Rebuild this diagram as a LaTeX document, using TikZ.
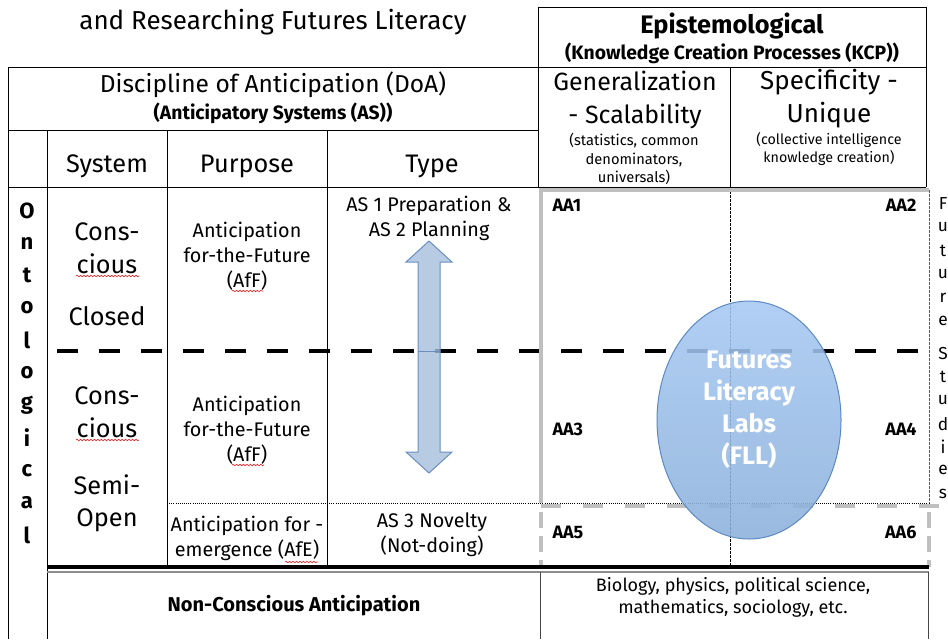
\documentclass[tikz,border=0pt]{standalone}
\usepackage{fontspec}
\setmainfont{Fira Sans}
\usetikzlibrary{decorations.pathmorphing}

\tikzset{every picture/.style={line width=0.75pt}}
\tikzset{
  txt/.style={inner sep=0.75pt, align=center},
  aalbl/.style={inner sep=0.75pt, font=\fontsize{13.5}{15}\selectfont\bfseries},
  squiggle/.style={draw={rgb, 255:red, 230; green, 40; blue, 40 }, line width=0.5pt, decorate, decoration={snake, amplitude=0.55pt, segment length=2.6pt}},
  graybar/.style={draw={rgb, 255:red, 191; green, 191; blue, 191 }, line width=2.6pt}
}

\begin{document}
\begin{tikzpicture}[x=0.75pt,y=0.75pt,yscale=-1,xscale=1]
\path [use as bounding box] (0,0) rectangle (948,639); %set diagram to the size of the picture

%Straight Lines: heavy dashed split between closed and semi-open
\draw [line width=3pt, dash pattern=on 15.75pt off 15.75pt] (57,351) -- (918,351) ;

%Shape: Rectangle, Epistemological header
\draw  (538,7) -- (926,7) -- (926,187) ;
\draw  (538,7) -- (538,187) ;
%Straight Lines
\draw  (8,67) -- (926,67) ;
\draw  (8,130) -- (538,130) ;
\draw  (8,187) -- (926,187) ;
\draw  (8,67) -- (8,639) ;
\draw  (47,130) -- (47,639) ;
\draw  (167,130) -- (167,567) ;
\draw  (327,130) -- (327,567) ;
\draw  (730,67) -- (730,187) ;
%Straight Lines: thin dashed middle of the AA area
\draw [line width=0.5pt, dash pattern=on 2pt off 1pt] (730,187) -- (730,567) ;
%Straight Lines: thin dotted row split
\draw [line width=0.6pt, densely dotted] (167,503) -- (929,503) ;

%Shape: gray frame of AA1-AA4
\draw [graybar] (929,190) -- (541,190) -- (541,503) ;
\draw [line width=0.5pt, dash pattern=on 2pt off 1pt, color={rgb, 255:red, 90; green, 90; blue, 90 }] (929,190) -- (929,503) ;
%Shape: gray dashed frame of AA5-AA6
\draw [graybar, dash pattern=on 15pt off 16.5pt] (541,506) -- (948,506) ;
\draw [graybar, dash pattern=on 12pt off 6pt] (541,512) -- (541,567) ;
\draw [graybar, dash pattern=on 12pt off 6pt] (929,512) -- (929,567) ;

%Straight Lines: heavy bottom line
\draw [line width=2.4pt] (47,567) -- (929,567) ;
\draw [line width=1.2pt, color={rgb, 255:red, 140; green, 140; blue, 140 }] (47,572) -- (929,572) ;
\draw [color={rgb, 255:red, 70; green, 70; blue, 70 }] (540,572) -- (540,639) ;
\draw [color={rgb, 255:red, 70; green, 70; blue, 70 }] (928,572) -- (928,639) ;

%Shape: Up Down Arrow
\draw [color={rgb, 255:red, 108; green, 142; blue, 191 }, fill={rgb, 255:red, 165; green, 190; blue, 220 }, fill opacity=0.8] (429,241) -- (452,262) -- (440,262) -- (440,452) -- (452,452) -- (429,473) -- (406,452) -- (418,452) -- (418,262) -- (406,262) -- cycle ;
\draw [color={rgb, 255:red, 108; green, 142; blue, 191 }] (418,351) -- (440,351) ;

%Shape: Ellipse, Futures Literacy Labs
\shade [top color={rgb, 255:red, 166; green, 200; blue, 242 }, bottom color={rgb, 255:red, 140; green, 176; blue, 218 }, opacity=0.88] (749,420) ellipse (92 and 119) ;
\draw [color={rgb, 255:red, 92; green, 137; blue, 194 }] (749,420) ellipse (92 and 119) ;

% Text Node
\draw (273,22) node (title) [txt, font=\fontsize{19.5}{22}\selectfont] {and Researching Futures Literacy};
% Text Node
\draw (732,26) node (epi) [txt, font=\fontsize{19}{22}\selectfont\bfseries] {Epistemological};
% Text Node
\draw (732,53) node (kcp) [txt, font=\fontsize{14.5}{15}\selectfont\bfseries] {(Knowledge Creation Processes (KCP))};
% Text Node
\draw (273,85) node (doa) [txt, font=\fontsize{18.4}{22}\selectfont] {Discipline of Anticipation (DoA)};
% Text Node
\draw (273,113) node (anticip) [txt, font=\fontsize{14.5}{15}\selectfont\bfseries] {(Anticipatory Systems (AS))};
% Text Node
\draw (635,100) node (gen) [txt, font=\fontsize{18.7}{24.75}\selectfont] {Generalization\\- Scalability};
% Text Node
\draw (634,159) node (gensub) [txt, font=\fontsize{11}{13.9}\selectfont] {(statistics, common\\denominators,\\universals)};
% Text Node
\draw (829,99) node (spec) [txt, font=\fontsize{19.5}{24.75}\selectfont] {Specificity -\\Unique};
% Text Node
\draw (829,149) node (specsub) [txt, font=\fontsize{10.7}{13.9}\selectfont] {(collective intelligence\\knowledge creation)};

% Text Node
\draw (107,166) node (hsys) [txt, font=\fontsize{19}{22}\selectfont] {System};
% Text Node
\draw (247,166) node (hpur) [txt, font=\fontsize{19}{22}\selectfont] {Purpose};
% Text Node
\draw (432,166) node (htype) [txt, font=\fontsize{19}{22}\selectfont] {Type};

% Text Node: vertical Ontological
\foreach \l [count=\i] in {O,n,t,o,l,o,g,i,c,a,l}
  \draw (27,178+32.5*\i) node (ont\i) [txt, font=\fontsize{16.5}{18}\selectfont\bfseries] {\l};

% Text Node
\draw (107,248) node (sys1) [txt, font=\fontsize{19}{24.75}\selectfont] {Cons-\\cious};
% Text Node
\draw (107,316) node (sys1b) [txt, font=\fontsize{19}{24.75}\selectfont] {Closed};
% Text Node
\draw (107,412) node (sys2) [txt, font=\fontsize{19}{24.75}\selectfont] {Cons-\\cious};
% Text Node
\draw (107,503) node (sys2b) [txt, font=\fontsize{19}{24}\selectfont] {Semi-\\Open};

% Text Node
\draw (247,256) node (pur1) [txt, font=\fontsize{14.8}{18.75}\selectfont] {Anticipation\\for-the-Future\\(AfF)};
% Text Node
\draw (247,430) node (pur2) [txt, font=\fontsize{14.8}{18.75}\selectfont] {Anticipation\\for-the-Future\\(AfF)};
% Text Node
\draw (247,538) node (pur3) [txt, font=\fontsize{14.8}{18.75}\selectfont] {Anticipation for -\\emergence (AfE)};

% Text Node
\draw (429,218) node (type1) [txt, font=\fontsize{14.8}{18.75}\selectfont] {AS 1 Preparation \&\\AS 2 Planning};
% Text Node
\draw (432,535) node (type2) [txt, font=\fontsize{14.8}{18.75}\selectfont] {AS 3 Novelty\\(Not-doing)};

%Spell-check squiggles
\draw [squiggle] (76,276) -- (139,276) ;
\draw [squiggle] (76,440) -- (139,440) ;
\draw [squiggle] (232,291) -- (263,291) ;
\draw [squiggle] (232,465) -- (264,465) ;
\draw [squiggle] (285,562) -- (318,562) ;

% Text Node
\draw (551,205) node (aa1) [aalbl, anchor=west] {AA1};
% Text Node
\draw (918,205) node (aa2) [aalbl, anchor=east] {AA2};
% Text Node
\draw (551,429) node (aa3) [aalbl, anchor=west] {AA3};
% Text Node
\draw (918,429) node (aa4) [aalbl, anchor=east] {AA4};
% Text Node
\draw (551,532) node (aa5) [aalbl, anchor=west] {AA5};
% Text Node
\draw (918,532) node (aa6) [aalbl, anchor=east] {AA6};

% Text Node
\draw (749,410) node (fll) [txt, text=white, font=\fontsize{19}{24}\selectfont\bfseries] {Futures\\Literacy\\Labs\\(FLL)};

% Text Node: side letters, cut at the page edge
\foreach \l [count=\i] in {F,u,t,u,r,e}
  \draw (943,180+23.5*\i) node (fut\i) [inner sep=0pt, font=\fontsize{13}{15}\selectfont] {\l};
\foreach \l [count=\i] in {S,t,u,d,i,e,s}
  \draw (943,330+23.4*\i) node (stu\i) [inner sep=0pt, font=\fontsize{13}{15}\selectfont] {\l};

% Text Node
\draw (294,606) node (noncon) [txt, font=\fontsize{15}{16}\selectfont\bfseries] {Non-Conscious Anticipation};
% Text Node
\draw (733,597) node (bio) [txt, font=\fontsize{13.5}{16.5}\selectfont] {Biology, physics, political science,\\mathematics, sociology, etc.};

\end{tikzpicture}
\end{document}
